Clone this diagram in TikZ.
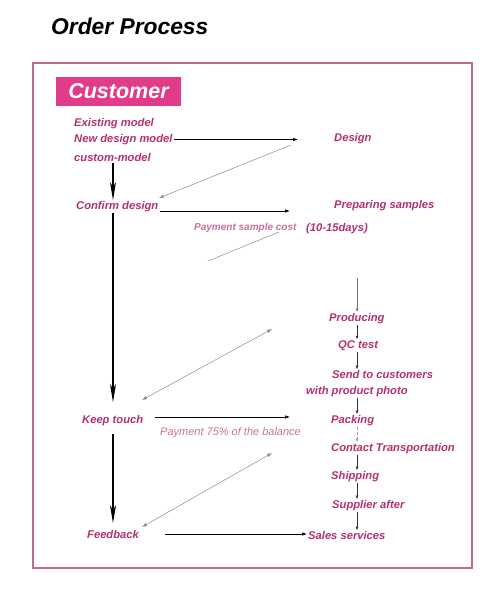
\documentclass[tikz,border=0pt]{standalone}
\usepackage{fontspec}
\setmainfont{Liberation Sans}
\usetikzlibrary{arrows.meta}
\definecolor{txt}{HTML}{B5306E}
\definecolor{lighttxt}{HTML}{C8709A}
\definecolor{custfill}{HTML}{E03C8A}
\definecolor{frame}{HTML}{C5668F}
\begin{document}
\begin{tikzpicture}[x=1pt,y=-1pt,
  lbl/.style={font=\bfseries\itshape\fontsize{11.2}{13}\selectfont, text=txt, inner sep=1pt, anchor=west, yshift=-1.5pt},
  paylbl/.style={font=\bfseries\itshape\fontsize{10}{12}\selectfont, text=lighttxt, inner sep=1pt, anchor=west, yshift=-1.5pt},
  flow/.style={-{Latex[length=5pt,width=3.5pt]}, line width=0.6pt, black},
  small/.style={-{Latex[length=3.5pt,width=3pt]}, line width=0.5pt, black!80},
  main/.style={-{Stealth[length=18pt,width=6pt,inset=5pt]}, line width=1.3pt, black},
  back/.style={-{Latex[length=5pt,width=3.5pt]}, line width=0.5pt, black!45},
  both/.style={{Latex[length=5pt,width=3.5pt]}-{Latex[length=5pt,width=3.5pt]}, line width=0.5pt, black!45}]
\useasboundingbox (0,0) rectangle (500,592);
\fill[white] (0,0) rectangle (500,592);
% title
\node[anchor=west, inner sep=0pt, font=\bfseries\itshape\fontsize{22.8}{26}\selectfont] (title) at (51,26) {Order Process};
% frame
\draw[frame, line width=1.6pt] (33,63) rectangle (472,568);
\node[fill=custfill, minimum width=125pt, minimum height=29pt, inner sep=0pt, text=white,
      font=\bfseries\itshape\fontsize{21.5}{24}\selectfont] (cust) at (118.5,91.5) {Customer};
% left column
\node[lbl] (exist) at (73,122) {Existing model};
\node[lbl] (new) at (73,138) {New design model};
\node[lbl] (custom) at (73,156) {custom-model};
\node[lbl] (confirm) at (75,205) {Confirm design};
\node[lbl] (keep) at (81,419) {Keep touch};
\node[lbl] (feed) at (86,533) {Feedback};
% right column
\node[lbl] (design) at (333,137) {Design};
\node[lbl] (prep) at (333,204) {Preparing samples};
\node[lbl] (days) at (305,227) {(10-15days)};
\node[paylbl] (pay1) at (193,226) {Payment sample cost};
\node[lbl] (prod) at (328,317) {Producing};
\node[lbl] (qc) at (337,344) {QC test};
\node[lbl] (send) at (331,373) {Send to customers};
\node[lbl] (photo) at (305,390) {with product photo};
\node[lbl] (pack) at (330,419) {Packing};
\node[paylbl, font=\itshape\fontsize{11}{12}\selectfont] (pay2) at (159,431) {Payment 75\% of the balance};
\node[lbl] (contact) at (330,447) {Contact Transportation};
\node[lbl] (ship) at (330,475) {Shipping};
\node[lbl] (supp) at (331,504) {Supplier after};
\node[lbl] (sales) at (307,534) {Sales services};
% helper coordinates
\coordinate (colL) at (113,0);
\coordinate (colR) at (357,0);
\coordinate (d1) at (291,145);
\coordinate (d1e) at (159,198);
\coordinate (s1) at (279,232);
\coordinate (s1e) at (208,261);
\coordinate (p0) at (357,278);
\coordinate (k1) at (272,329);
\coordinate (k1e) at (142,400);
\coordinate (f1) at (272,453);
\coordinate (f1e) at (142,527);
\coordinate (ce) at (290,211);
\coordinate (ke) at (290,417);
\coordinate (fs) at (165,534);
% horizontal arrows
\draw[flow, shorten >=35pt] (new.east) -- (new.east -| design.west);
\draw[flow] (confirm.east |- ce) -- (ce);
\draw[flow, shorten <=11pt] (keep.east |- ke) -- (ke);
\draw[flow] (fs) -- (sales.west |- fs);
% gray back arrows
\draw[back] (d1) -- (d1e);
\draw[line width=0.5pt, black!45] (s1) -- (s1e);
\draw[both] (k1) -- (k1e);
\draw[both] (f1) -- (f1e);
% main vertical arrows
\draw[main] (custom.south -| colL) -- (confirm.north -| colL);
\draw[main, shorten >=12pt] (confirm.south -| colL) -- (keep.north -| colL);
\draw[main, shorten <=7pt, shorten >=6pt] (keep.south -| colL) -- (feed.north -| colL);
% right column arrows
\draw[small, line width=1pt, black!55] (p0) -- (prod.north -| colR);
\draw[small] (prod.south -| colR) -- (qc.north -| colR);
\draw[small] (qc.south -| colR) -- (send.north -| colR);
\draw[small] (photo.south -| colR) -- (pack.north -| colR);
\draw[small, black!40, densely dashed] (pack.south -| colR) -- (contact.north -| colR);
\draw[small] (contact.south -| colR) -- (ship.north -| colR);
\draw[small] (ship.south -| colR) -- (supp.north -| colR);
\draw[small] (supp.south -| colR) -- (sales.north -| colR);
\end{tikzpicture}
\end{document}
